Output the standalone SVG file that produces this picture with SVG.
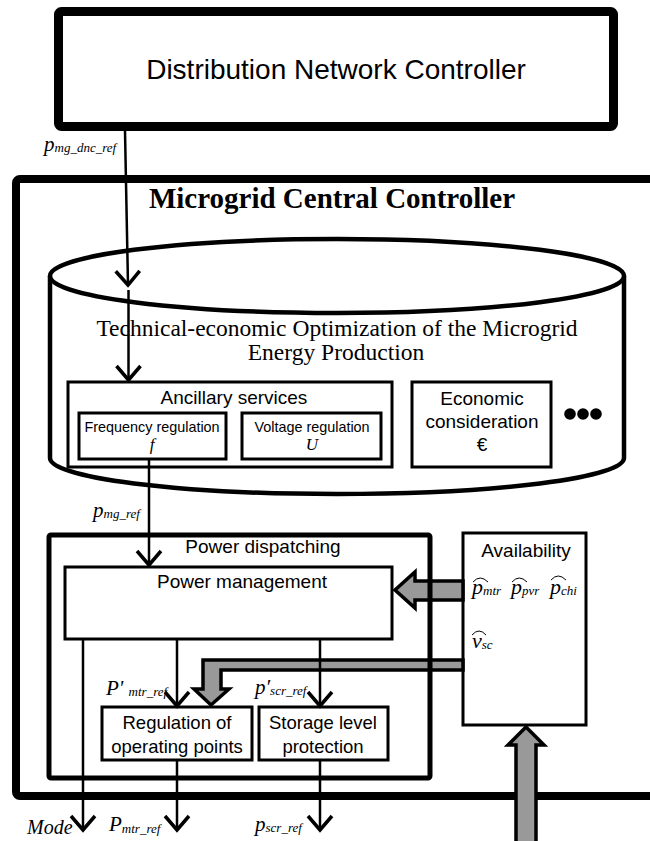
<svg xmlns="http://www.w3.org/2000/svg" width="650" height="841" viewBox="0 0 650 841">
<style>
.sans{font-family:"Liberation Sans",Arial,sans-serif;fill:#000}
.serif{font-family:"Liberation Serif","Times New Roman",serif;fill:#000}
.it{font-style:italic}
.mid{text-anchor:middle}
.box{fill:#fff;stroke:#000;stroke-width:3}
.ln{stroke:#000;stroke-width:2.5;fill:none}
.gray{fill:#999;stroke:#000;stroke-width:3.5;stroke-linejoin:miter}
.hat{fill:none;stroke:#000;stroke-width:1}
</style>
<defs>
<marker id="chev" markerUnits="userSpaceOnUse" orient="auto" refX="0" refY="0" markerWidth="20" markerHeight="30" overflow="visible">
<path d="M-14,-12 L0,0 L-14,12" fill="none" stroke="#000" stroke-width="3.5"/>
</marker>
</defs>

<g id="dnc">
<rect x="58.5" y="11.5" width="555" height="115" rx="3" fill="#fff" stroke="#000" stroke-width="9"/>
<text class="sans mid" x="336" y="79" font-size="28">Distribution Network Controller</text>
</g>

<g id="mcc">
<rect x="16" y="179" width="700" height="617" rx="4" fill="#fff" stroke="#000" stroke-width="8"/>
<text class="serif mid" x="332" y="208" font-size="29" font-weight="bold">Microgrid Central Controller</text>
</g>

<g id="optimization">
<path d="M50,276 L50,458 A287,36 0 0 0 624,458 L624,276" fill="#fff" stroke="#000" stroke-width="4.5"/>
<ellipse cx="337" cy="276" rx="287" ry="37" fill="#fff" stroke="#000" stroke-width="4.5"/>
<text class="serif mid" x="337" y="336" font-size="23.5">Technical-economic Optimization of the Microgrid</text>
<text class="serif mid" x="336" y="360" font-size="23.5">Energy Production</text>
</g>

<g id="ancillary">
<rect class="box" x="68" y="382" width="324" height="85"/>
<text class="sans mid" x="234" y="404" font-size="19">Ancillary services</text>
</g>

<g id="frequency">
<rect class="box" x="79" y="413" width="147" height="46" stroke-width="4"/>
<text class="sans mid" x="152" y="432" font-size="14.4">Frequency regulation</text>
<text class="serif it mid" x="152" y="450" font-size="17">f</text>
</g>

<g id="voltage">
<rect class="box" x="242" y="413" width="139" height="46" stroke-width="4"/>
<text class="sans mid" x="312" y="432" font-size="14.4">Voltage regulation</text>
<text class="serif it mid" x="312" y="450" font-size="17">U</text>
</g>

<g id="economic">
<rect class="box" x="412" y="382" width="139" height="85"/>
<text class="sans mid" x="482" y="405" font-size="19">Economic</text>
<text class="sans mid" x="482" y="428" font-size="19">consideration</text>
<text class="sans mid" x="482" y="451" font-size="19">€</text>
</g>

<g id="more">
<circle cx="570" cy="414" r="5.8"/>
<circle cx="583" cy="414" r="5.8"/>
<circle cx="596" cy="414" r="5.8"/>
</g>

<g id="availability">
<rect class="box" x="463" y="533" width="123" height="192"/>
<text class="sans mid" x="526" y="557" font-size="19">Availability</text>
<text class="serif it" x="472" y="594" font-size="22">p<tspan font-size="13" dy="1">mtr</tspan></text>
<text class="serif it" x="511" y="594" font-size="22">p<tspan font-size="13" dy="1">pvr</tspan></text>
<text class="serif it" x="550" y="594" font-size="22">p<tspan font-size="13" dy="1">chi</tspan></text>
<text class="serif it" x="472" y="648" font-size="22">v<tspan font-size="13" dy="1">sc</tspan></text>
<path class="hat" d="M473,582 Q480,574 488,582"/>
<path class="hat" d="M512,582 Q519,574 527,582"/>
<path class="hat" d="M551,580 Q558,572 566,580"/>
<path class="hat" d="M472,635 Q479,627 486,635"/>
</g>

<g id="power-management">
<rect class="box" x="65" y="567" width="327" height="72"/>
<text class="sans mid" x="242" y="588" font-size="19">Power management</text>
</g>

<g id="regulation">
<rect class="box" x="102" y="707" width="150" height="53"/>
<text class="sans mid" x="177" y="729" font-size="18.5">Regulation of</text>
<text class="sans mid" x="177" y="753" font-size="18.5">operating points</text>
</g>

<g id="storage">
<rect class="box" x="259" y="707" width="129" height="53"/>
<text class="sans mid" x="323" y="729" font-size="18.5">Storage level</text>
<text class="sans mid" x="323" y="753" font-size="18.5">protection</text>
</g>

<g id="connectors">
<polygon class="gray" points="463,581 415,581 415,572 395,590 415,608 415,600 463,600"/>
<polygon class="gray" points="463,660 203,660 203,689 194,689 211,705 229,689 221,689 221,670 463,670"/>
<polygon class="gray" points="516,850 516,745 508,745 526,727 544,745 536,745 536,850"/>
<path class="ln" d="M125,131 L128,285" marker-end="url(#chev)"/>
<path class="ln" d="M128.5,290 L128.5,380" marker-end="url(#chev)"/>
<path class="ln" d="M149,459 L149,565" marker-end="url(#chev)"/>
<path class="ln" d="M83,639 L83,830" marker-end="url(#chev)"/>
<path class="ln" d="M177,639 L177,706" marker-end="url(#chev)"/>
<path class="ln" d="M320,639 L320,706" marker-end="url(#chev)"/>
<path class="ln" d="M177,760 L177,830" marker-end="url(#chev)"/>
<path class="ln" d="M320,760 L320,830" marker-end="url(#chev)"/>
<text class="serif it" x="44" y="151" font-size="21">p<tspan font-size="13" dy="1">mg_dnc_ref</tspan></text>
<text class="serif it" x="93" y="517" font-size="21">p<tspan font-size="13" dy="1">mg_ref</tspan></text>
<text class="serif it" x="106" y="695" font-size="21">P' <tspan font-size="13" dy="1">mtr_ref</tspan></text>
<text class="serif it" x="255" y="694" font-size="21">p′<tspan font-size="13" dy="1">scr_ref</tspan></text>
<text class="serif it" x="27" y="834" font-size="20">Mode</text>
<text class="serif it" x="109" y="831" font-size="21">P<tspan font-size="13" dy="2">mtr_ref</tspan></text>
<text class="serif it" x="255" y="831" font-size="21">p<tspan font-size="13" dy="1">scr_ref</tspan></text>
</g>

<g id="power-dispatching">
<rect x="49" y="535" width="381" height="243" rx="2" fill="none" stroke="#000" stroke-width="5"/>
<text class="sans mid" x="263" y="553" font-size="19">Power dispatching</text>
</g>
</svg>
